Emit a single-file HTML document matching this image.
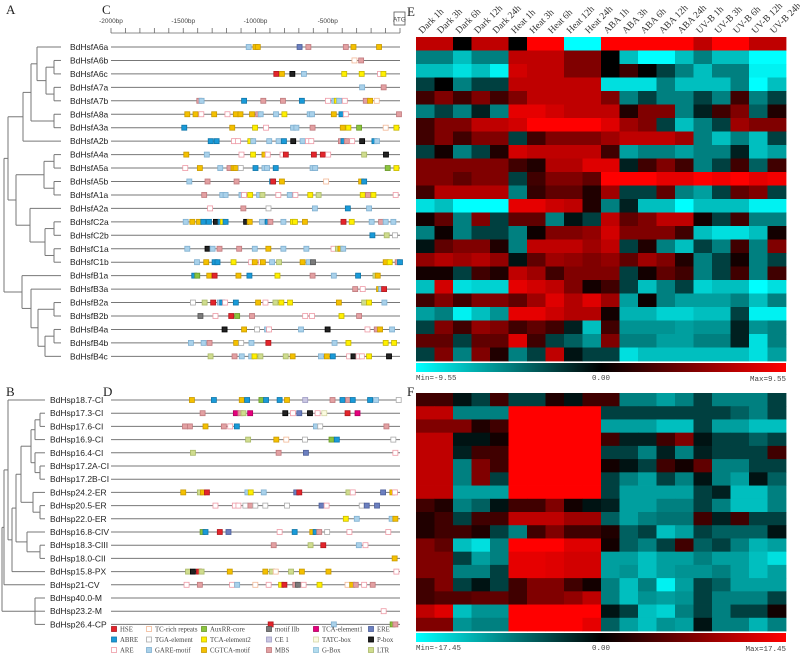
<!DOCTYPE html>
<html><head><meta charset="utf-8">
<style>
body{margin:0;background:#fff;width:800px;height:654px;overflow:hidden;}
svg{display:block;}
.pl{font-family:"Liberation Serif",serif;font-size:13px;fill:#222;}
.gn{font-family:"Liberation Sans",sans-serif;font-size:8.5px;fill:#222;}
.cl{font-family:"Liberation Serif",serif;font-size:9.5px;fill:#333;}
.lg{font-family:"Liberation Serif",serif;font-size:6.8px;fill:#444;}
.rl{font-family:"Liberation Sans",sans-serif;font-size:6.5px;fill:#444;}
.cb{font-family:"Liberation Mono",monospace;font-size:7.5px;fill:#444;}
</style></head><body>
<svg id="fig" width="800" height="654" viewBox="0 0 800 654" xmlns="http://www.w3.org/2000/svg">
<text class="pl" x="6" y="14">A</text>
<text class="pl" x="102" y="14">C</text>
<text class="pl" x="407" y="16">E</text>
<text class="pl" x="6" y="396">B</text>
<text class="pl" x="103" y="396">D</text>
<text class="pl" x="407" y="396">F</text>
<g id="trees"></g>
<g id="promC"></g>
<g id="promD"></g>
<g id="legend"></g>
<g id="heatE"></g>
<g id="heatF"></g>
</svg>
<script>
const genesC=["BdHsfA6a","BdHsfA6b","BdHsfA6c","BdHsfA7a","BdHsfA7b","BdHsfA8a","BdHsfA3a","BdHsfA2b","BdHsfA4a","BdHsfA5a","BdHsfA5b","BdHsfA1a","BdHsfA2a","BdHsfC2a","BdHsfC2b","BdHsfC1a","BdHsfC1b","BdHsfB1a","BdHsfB3a","BdHsfB2a","BdHsfB2b","BdHsfB4a","BdHsfB4b","BdHsfB4c"];
const genesD=["BdHsp18.7-CI","BdHsp17.3-CI","BdHsp17.6-CI","BdHsp16.9-CI","BdHsp16.4-CI","BdHsp17.2A-CI","BdHsp17.2B-CI","BdHsp24.2-ER","BdHsp20.5-ER","BdHsp22.0-ER","BdHsp16.8-CIV","BdHsp18.3-CIII","BdHsp18.0-CII","BdHsp15.8-PX","BdHsp21-CV","BdHsp40.0-M","BdHsp23.2-M","BdHsp26.4-CP"];
const elemsC=[
"M1047 C1000 C984 B695 S634 S375 C322 C145",
"T315 S269",
"H856 C817 K745 M665 Y386 Y265 R138 Y115",
"M262 S113",
"S1389 M1373 A1079 S946 S810 A679 R499 M455 Y437 M421 R382 S237 C207 T161",
"C1472 C1415 R1375 C1286 R1194 C1136 C1104 C1024 S982 M964 M858 Y800 M625 M609 C458 A405 R375 S7",
"A1493 C1161 Y1003 R927 M740 M717 S605 C396 Y357 X283 T99 Y25",
"A1310 A1269 R1149 R1121 Y1036 M1016 M905 M840 A803 K739 M674 R637 R614 S409 A391 S368 R331 K262 A177 M159",
"C1479 M1337 R1097 Y1017 C938 R915 R813 H790 H596 H534 R497 L248 K97",
"R1486 C1385 M1244 S1180 C1152 C1138 G1102 A1000 M938 M920 A860 M605 M587 X85 Y25",
"M1458 S1332 S1131 A885 H878 C817 T511 C269 A248",
"S1355 M1230 M1207 M1097 R1079 Y1037 M975 L952 R842 M763 R724 Y621 L563 Y258 S221 Y184 R30",
"R1314 S1084 G910 M589 A361 M214",
"M1483 C1437 C1391 A1361 A1322 K1274 A1242 Y1226 A1207 K1065 C1040 M955 A915 S897 M807 Y741 Y727 C658 H391 Y334 M196 S131 M99 M46",
"A191 L92 G35",
"M1472 K1332 M1297 S1249 S1113 M1005 C911 M807 M648 R460 L430 C412 M393",
"M1405 C1341 A1283 A1263 Y1152 R1030 C1005 R961 C949 M885 L837 C674 M632 I602 C99 Y71 S16 A0",
"A1424 X1403 C1320 H1283 C1118 A1042 Y848 S605 M458 A290 L170 C154",
"S310 R258 C145 M131 H110",
"G1433 L1352 H1293 M1247 A1230 R1210 A1136 C982 R931 L862 Y821 Y761 C423 L248 Y214 M108",
"I1381 R1277 H1168 X1127 S1024 R656 R609 Y405 S283",
"K1214 C1079 G989 M920 R906 M685 K501 R225 S161 C138 M55",
"M1447 M1359 S1318 C1134 G1099 M1028 H911 M453 Y357 Y99 Y41",
"L1311 S1145 M1095 M1030 Y1007 L966 L791 C743 M547 C506 A465 R352 K322 R287 R264 Y214 K76"];
const elemsD=[
"C1440 A1288 C1095 A1058 X959 A927 A833 C782 E656 S467 A398 S359 A327 A207 M166 G9",
"S1366 P1136 S1104 L1083 P1037 K794 R741 B697 K623 R570 Z524 H363 P294",
"S1488 S1454 C1346 S1219 R1175 A1129 M582 G552 S94",
"L1051 C856 T787 G658 X474 A437 G46",
"L1433 S840 B651 R32",
"","",
"C1500 L1385 C1364 H1336 M1056 Y1033 M943 B718 H697 L357 R327 B117 C53 R35",
"R1277 R1143 R1118 G1070 S1035 G1001 G932 G782 B543 R508 G265 B230 B159",
"Y375 M299 M58 C32",
"X1366 A1346 H1247 B1187 R833 A729 C607 A584 S559 G504 R350 R81",
"S874 L619 H531 M285 R239",
"C37",
"L1467 K1433 H1392 L1373 C1178 C932 L886 T860 L754 C679 C495 R25",
"R1477 S1385 R1162 M1127 T1001 R909 Y823 H800 S725 I706 R667 Y557 T363 C331 S306 R248 S189",
"","R113","H895 M458 X51 S32"];
const elemCodes=["H","T","X","I","P","B","A","G","Y","E","Z","K","R","M","C","S","O","L"];
const elemNames=["HSE","TC-rich repeats","AuxRR-core","motif IIb","TCA-element1","ERE","ABRE","TGA-element","TCA-element2","CE 1","TATC-box","P-box","ARE","GARE-motif","CGTCA-motif","MBS","G-Box","LTR"];
const STY={H:["#e3242b","#b01a1f"],T:["#fff","#f2b896"],X:["#8cc43e","#6a9a2a"],I:["#7a7a7a","#555"],P:["#e5007d","#b0005f"],B:["#6b7fbf","#4d5f9a"],A:["#1a9ad8","#1077aa"],G:["#fff","#aaa"],Y:["#fff000","#c8b800"],E:["#c9c6e2","#9f9bc4"],Z:["#fbfbe0","#d6d6a8"],K:["#222","#000"],R:["#fff","#ee9aa6"],M:["#a9d1ea","#80b0d0"],C:["#f4c000","#c89a00"],S:["#e2a0a2","#c07a7e"],O:["#b3dcee","#8cbfd8"],L:["#cfdc8e","#a9b868"]};

const conditions=["Dark 1h","Dark 3h","Dark 6h","Dark 12h","Dark 24h","Heat 1h","Heat 3h","Heat 6h","Heat 12h","Heat 24h","ABA 1h","ABA 3h","ABA 6h","ABA 12h","ABA 24h","UV-B 1h","UV-B 3h","UV-B 6h","UV-B 12h","UV-B 24h"];
const valuesE=[
[3,3,0,3,3,0,4,4,-4,-4,4,4,4,4,4,3,4,4,3,3],
[-2,-2,-3,-2,-2,3,3,3,2,2,0,-3,-4,-4,-3,-2,-3,-3,-4,-4],
[-3,-3,-3.5,-3,-3.8,3.3,3,3,2,2,0,1,0,-1,-2,-3,-2,-2,-3.8,-3.8],
[-1,0,-2,-1,-1,3,3,3,3,3,-3.5,-3.5,-3.5,-2,-3,-3,-3,-2,-4,-3],
[1,2,1,2,1,2,3,3,3,3,2,-2,-1,-2,-2,-1,-2,1,-2,-1],
[-2,-1,-2,-0.5,-2,3.6,3.6,3.3,3,3,3,0.5,2,2,-2,-0.5,1,2,-1.5,0.5],
[1,2,2,3,3,3.3,4,4,4,4,3.5,2.5,2,-1,-3,-2,-1,2.5,2,2],
[1,2,1,2,2,-1,1,2,2,2,2.5,3,3,3,2.5,-2,-3,-2,-3,-1],
[-1,0.3,-2,-1,0.5,3.3,3,3,3,3,1,-2.5,-2,-2,-2.5,-2,-2,-0.5,-3,-2.5],
[2,2,2,2,2,1,0.5,2.8,2.8,3.5,3.5,-0.5,1,2,1,-2,-1,1,-1.5,1],
[2,2,1.5,2,2,-1,1,2,2,1.5,4,4,4,3.6,3.6,4,3.8,4,3.6,3.8],
[1,2.8,2.8,2.8,2.8,-2,0.8,1.5,1.5,0.5,2.5,-1,-1,1.5,-2,-2.5,-1,1.5,2,-1],
[-3.5,-3,-4,-4,-4,3.6,3.6,3.2,3,0.5,-2,-0.5,-3,-3,-4,-3,-3,-3,-3.8,-3.8],
[0.3,1.5,-2,2,-1,1.5,1.5,-2,-0.3,-1,3,1.5,2,3,3,0.3,-1,1,-2,-2],
[-2,0.2,-2,-1,-1,-2,0.2,2,2,2.3,3.3,2,2,2,1,-3,-3.5,-3.5,-3,0.3],
[-0.3,1.5,2,2,0.5,-2,3,3,3,2.5,3,-1,0.5,-2,-3,-1,-2,1,-2,2],
[2.3,2.8,2.5,2.8,2.3,-0.3,1.5,2.5,2.3,2,2.3,1.5,2.5,2,0.5,-2,-1,0.3,-2,-1],
[0.3,0.3,-1,1,0.5,3,2.5,1,2,2,2,-1,0.3,1.5,1,-2,-1,1,-2,1],
[-3,3.3,-3.5,-3.3,-3.3,3.6,3.3,3,2,0.3,1,-1,-3,-2,-1,-3.3,-3,-3,-4,-3.5],
[1,2,1,2,2,1.5,2.5,3.5,2.8,3.5,2.5,-2.5,0.2,-2,-2.5,-2.5,-2.5,-2,-3,-2],
[-2.5,-2,-3.8,-3,-2.3,3.6,3.6,3.2,2.8,2.8,0.3,-2.8,-2.8,-3.3,-3.3,-3,-3,-1,-3.8,-3.8],
[-1,2,1,2.3,2,1,1.5,1,-0.5,-3,1,-2.3,-2.3,-2.3,-2.5,-2.3,-2.3,-0.5,-2.3,-2],
[1.5,1.5,-1,1.5,1.5,3.5,1,-1,-1.5,-2.3,2,-2,-2,-2.5,-2.5,-2,-2,-0.5,-3.5,-2],
[-1,2,-2,2,0.5,-2,-1,3,-0.3,-1,-1,-3.5,-3,-3,-3,-3,-3,-3,-3.5,-2.5]];
const valuesF=[
[1,1,-0.3,-1,1,-1,-1,0.5,-0.3,1,1,-2,-2,-2.5,-2,-1,-2,-2,-2,-1],
[3,3,-2,-2,-2,4,4,4,4,4,-1,-1,-1,-1,-1,-1,-1,-1.5,-2,-1],
[2,2,2,0.5,1,4,4,4,4,4,-2.5,-2.5,-2.5,-3,-3,-1,-2.5,-2.5,-3,-3],
[3,3,-0.3,-0.3,0.3,4,4,4,4,4,1,-0.5,-0.5,1,2,-0.3,-1,-1,-1.5,-1],
[3,3,-0.5,1,1,4,4,4,4,4,-1,-1,-2,-0.5,-2,-0.5,-1,-1,-1,1],
[3,3,-2,2,1,4,4,4,4,4,0.3,-0.3,-1,1,0.3,1.5,-2,-2,-1,-1],
[3,3,-2,2,-1,4,4,4,4,4,-1,-2,-2.5,-1,-2,-0.3,-2,-2.5,-0.3,-1.5],
[3,3,-2.5,-2.5,-2.5,4,4,4,4,4,-1,-2.5,-2.5,-2.5,-2.5,-1,-0.5,-3,-3,-2],
[1,0.5,-2,-1.5,-0.3,1,1,2,0.3,-0.3,-0.5,-2.5,-2.5,-2,-2,-1,-2,-3,-3,-2],
[0.5,1,-1,1,1,3,3,3,2.5,2.5,-1.5,-2.5,-2,-1.8,-1.8,1,-0.5,1,-1,-1],
[0.5,1,1,0.5,-1,-2,1,2,1,1,0.5,-1.5,-1,-3,-2.5,-1,-1.5,-1.5,-1.5,-0.3],
[2,1.5,-3,-3.5,-2,4,4,4,3.5,3.5,0.3,-1.5,-2,-1,1,-1.5,-1,-2,-2.8,-2.5],
[2,2,-1,-2.5,-2,3.6,3.6,3.5,3.3,3.3,-2.5,-2.5,-3,-2.5,-2.5,-2,-2.5,-2.5,-3,-3.5],
[2,2,-2,-2,-1,3.6,3.6,3.5,3.3,3.3,-2.5,-2.3,-3,-2.5,-2.3,-2.3,-2,-2.5,-3,-2.5],
[1,2,-1,-0.3,-1,1,2,2,1,0.3,-2,-3,-2,-3.8,-2.5,-1,-1.5,-2.5,-2.5,-2.5],
[1,1.3,1.3,1.5,1.5,1,2,2,2.3,3,-2,-3,-2.3,-2.5,-2.3,-1,-2,-2,-2,-1],
[3,3.5,-3,-2.3,-2.3,4,4,4,4,4,-0.3,-1,-3,-3.3,-2,-1,-2,-1,-1,0.3],
[2,2,-2.3,-2,-2,4,4,4,4,3.6,-1.5,-2.5,-3,-2.3,-2.5,-0.3,-2,-2,-2.8,-2]];
const rangeE=["Min=-9.55","0.00","Max=9.55"];
const rangeF=["Min=-17.45","0.00","Max=17.45"];
const rulerTicks=["-2000bp","-1500bp","-1000bp","-500bp"];

const NS="http://www.w3.org/2000/svg";
function mk(tag,attrs,parent){const e=document.createElementNS(NS,tag);for(const k in attrs)e.setAttribute(k,attrs[k]);parent.appendChild(e);return e;}

const LX0=111,LX1=400;
function bpX(bp){return LX1+bp*(LX1-LX0)/2000;}
function drawMarker(g,code,cx,cy){
  const s=STY[code];
  const r=mk('rect',{x:cx-2.5,y:cy-2.5,width:5,height:5,fill:s[0],stroke:s[1],'stroke-width':0.8},g);
  
  
}
function drawPromoters(gid,genes,elems,y0,dy,nameX){
  const g=document.getElementById(gid);
  genes.forEach((name,i)=>{
    const y=y0+i*dy;
    const t=mk('text',{x:nameX,y:y+3,class:'gn'},g);t.textContent=name;
    
    
    const ln=mk('line',{x1:LX0,y1:y,x2:LX1,y2:y,stroke:'#777','stroke-width':1},g);
    
    
    elems[i].split(' ').filter(s=>s).forEach(tok=>{
      drawMarker(g,tok[0],bpX(-parseInt(tok.slice(1))),y);
    });
  });
}
drawPromoters('promC',genesC,elemsC,47,13.45,70);
drawPromoters('promD',genesD,elemsD,400,13.2,50);

(function(){
  const g=document.getElementById('promC');
  const r=mk('line',{x1:LX0,y1:33,x2:LX1,y2:33,stroke:'#666','stroke-width':0.8},g);
  
  
  for(let bp=-2000;bp<=0;bp+=100){mk('line',{x1:bpX(bp),y1:28,x2:bpX(bp),y2:33,stroke:'#666','stroke-width':0.8},g);}
  rulerTicks.forEach((lab,i)=>{const t=mk('text',{x:bpX(-2000+i*500),y:23,class:'rl','text-anchor':'middle'},g);t.textContent=lab;
    
    });
  const b=mk('rect',{x:394,y:12,width:11,height:13,fill:'#fff',stroke:'#555','stroke-width':0.8},g);
  
  
  const t=mk('text',{x:399.5,y:21.5,class:'rl','text-anchor':'middle','font-size':'6'},g);t.textContent='ATG';
  
  
})();

(function(){
  const g=document.getElementById('legend');
  const cols=[112,147,202,267,314,369],rows=[629,639.5,650];
  elemCodes.forEach((c,i)=>{
    const col=i%6,row=Math.floor(i/6);
    drawMarker(g,c,cols[col]+2,rows[row]);
    const t=mk('text',{x:cols[col]+8,y:rows[row]+2.5,class:'lg'},g);t.textContent=elemNames[i];
    
    
  });
})();

const treeA={x:4,c:[{x:8,c:[{x:23,c:[{x:31,c:[{x:37,c:[0,{x:46,c:[{x:54,c:[1,2]},{x:54,c:[3,4]}]}]},{x:54,c:[5,6]}]},7]},{x:16,c:[{x:44,c:[{x:54,c:[8,9]},{x:54,c:[10,11]}]},{x:30,c:[12,{x:45,c:[{x:54,c:[13,14]},{x:54,c:[15,16]}]}]}]}]},{x:22,c:[17,{x:31,c:[18,{x:38,c:[{x:54,c:[19,20]},{x:45,c:[{x:54,c:[21,22]},23]}]}]}]}]};
const treeB={x:2,c:[{x:4,c:[{x:8,c:[0,{x:12,c:[{x:16,c:[{x:21,c:[{x:31,c:[{x:35,c:[{x:40,c:[1,2]},3]},{x:35,c:[4,{x:40,c:[5,6]}]}]},{x:33,c:[7,{x:40,c:[8,9]}]}]},{x:27,c:[10,{x:40,c:[11,12]}]}]},13]}]},14]},{x:35,c:[15,16,17]}]};
function drawTree(node,y0,dy,tipX){
  const g=document.getElementById('trees');
  function rec(n){
    if(typeof n==='number') return {x:tipX,y:y0+n*dy};
    const ch=n.c.map(rec);
    const ys=ch.map(c=>c.y);
    const ymin=Math.min(...ys),ymax=Math.max(...ys);
    const l=mk('line',{x1:n.x,y1:ymin,x2:n.x,y2:ymax,stroke:'#777','stroke-width':1},g);
    
    
    ch.forEach(c=>{const h=mk('line',{x1:n.x,y1:c.y,x2:c.x,y2:c.y,stroke:'#777','stroke-width':1},g);
      
      });
    return {x:n.x,y:(ymin+ymax)/2};
  }
  rec(node);
}
drawTree(treeA,47,13.45,61);
drawTree(treeB,400,13.2,45);

function col(v){const f=Math.min(1,Math.abs(v)/4);const c=Math.round(255*f);return v>=0?`rgb(${c},0,0)`:`rgb(0,${c},${c})`;}
function drawHeat(gid,vals,x0,x1,y0,y1,range,labels,idp){
  const g=document.getElementById(gid);
  const cw=(x1-x0)/conditions.length,rh=(y1-y0)/vals.length;
  vals.forEach((row,r)=>row.forEach((v,c)=>{
    const rc=mk('rect',{x:x0+c*cw,y:y0+r*rh,width:cw+0.4,height:rh+0.4,fill:col(v)},g);
    
    
  }));
  const gr=mk('linearGradient',{id:idp+'grad',x1:0,y1:0,x2:1,y2:0},g);
  mk('stop',{offset:'0','stop-color':'#00ffff'},gr);
  mk('stop',{offset:'0.5','stop-color':'#000'},gr);
  mk('stop',{offset:'1','stop-color':'#ff0000'},gr);
  const cb=mk('rect',{x:x0,y:y1+2,width:x1-x0,height:9,fill:`url(#${idp}grad)`},g);
  
  
  const anc=['start','middle','end'],xs=[x0,(x0+x1)/2,x1];
  range.forEach((s,i)=>{const t=mk('text',{x:xs[i],y:y1+19+(i==2?1:0),class:'cb','text-anchor':anc[i]},g);t.textContent=s;
    
    });
  if(labels){
    conditions.forEach((c,i)=>{
      const cx=x0+(i+0.5)*cw;
      const t=mk('text',{x:0,y:0,class:'cl',transform:`translate(${cx-3},${y0-3}) rotate(-45)`},g);t.textContent=c;
      
      
    });
  }
}
drawHeat('heatE',valuesE,416,786,37,361,rangeE,true,'e');
drawHeat('heatF',valuesF,416,786,393,631,rangeF,false,'f');
</script>
</body></html>
